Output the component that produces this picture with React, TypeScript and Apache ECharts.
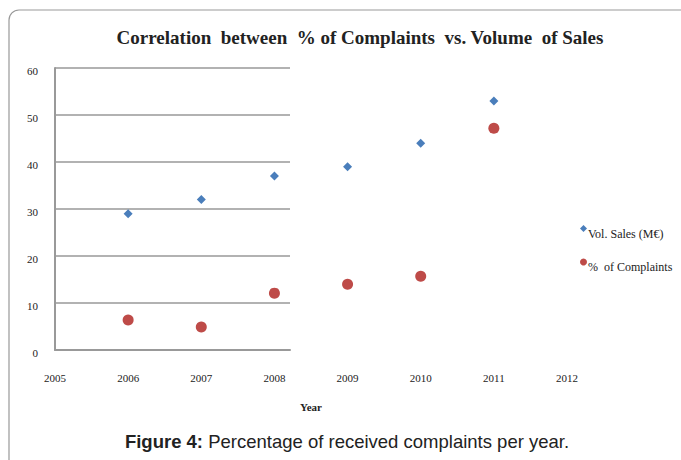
import React, { useEffect, useRef } from "react";
import * as echarts from "echarts";

const years = [2006, 2007, 2008, 2009, 2010, 2011];
const volSales = [29, 32, 37, 39, 44, 53];
const complaints = [6.4, 4.9, 12.1, 14, 15.7, 47.2];
const seriesNames = ["Vol. Sales (M€)", "%  of Complaints"];
const titleText = "Correlation  between  % of Complaints  vs. Volume  of Sales";
const captionBold = "Figure 4:";
const captionRest = " Percentage of received complaints per year.";

export default function App() {
  const ref = useRef<HTMLDivElement>(null);
  useEffect(() => {
    if (!ref.current) return;
    const chart = echarts.init(ref.current, null, { renderer: "svg" });
    const serif = "Liberation Serif";
    chart.setOption({
      animation: false,
      backgroundColor: "#fff",
      title: {
        text: titleText,
        left: 355,
        textAlign: "center",
        top: 23,
        textStyle: { fontFamily: serif, fontWeight: "bold", fontSize: 19, color: "#222" },
      },
      legend: {
        orient: "vertical",
        left: 575,
        top: 220,
        itemGap: 19,
        itemWidth: 7,
        itemHeight: 7,
        data: [
          { name: seriesNames[0], icon: "diamond" },
          { name: seriesNames[1], icon: "circle" },
        ],
        formatter: (n: string) => "{t|" + n + "}",
        textStyle: {
          fontFamily: serif,
          fontSize: 12,
          color: "#222",
          rich: { t: { fontFamily: serif, fontSize: 12, color: "#222", padding: [10, 0, 0, -4] } },
        },
      },
      grid: [
        { left: 55, right: 114, top: 68, bottom: 110 },
        { left: 55, width: 235, top: 68, height: 282 },
      ],
      xAxis: [
        {
          gridIndex: 0,
          type: "value",
          min: 2005,
          max: 2012,
          interval: 1,
          axisLine: { show: false },
          axisTick: { show: false },
          splitLine: { show: false },
          axisLabel: { margin: 22, fontFamily: serif, fontSize: 11, color: "#222", formatter: (v: number) => String(v) },
          name: "Year",
          nameLocation: "middle",
          nameGap: 51,
          nameTextStyle: { fontFamily: serif, fontSize: 11, fontWeight: "bold", color: "#222" },
        },
        {
          gridIndex: 1,
          type: "value",
          min: 0,
          max: 1,
          axisLine: { show: true, lineStyle: { color: "#999", width: 2 } },
          axisTick: { show: false },
          axisLabel: { show: false },
          splitLine: { show: false },
        },
      ],
      yAxis: [
        {
          gridIndex: 0,
          type: "value",
          min: 0,
          max: 60,
          interval: 10,
          axisLine: { show: false },
          axisTick: { show: false },
          splitLine: { show: false },
          axisLabel: {
            margin: 17,
            fontFamily: serif,
            fontSize: 11,
            color: "#222",
            formatter: (v: number) => "{a|" + v + "}",
            rich: { a: { fontFamily: serif, fontSize: 11, color: "#222", padding: [6, 0, 0, 0] } },
          },
        },
        {
          gridIndex: 1,
          type: "value",
          min: 0,
          max: 60,
          interval: 10,
          axisLine: { show: true, lineStyle: { color: "#999", width: 2 } },
          axisTick: { show: false },
          axisLabel: { show: false },
          splitLine: { show: true, lineStyle: { color: "#999", width: 1.5 } },
        },
      ],
      series: [
        {
          name: seriesNames[0],
          type: "scatter",
          xAxisIndex: 0,
          yAxisIndex: 0,
          symbol: "diamond",
          symbolSize: 9,
          itemStyle: { color: "#4A7EBB", opacity: 1 },
          data: years.map((y, i) => [y, volSales[i]]),
        },
        {
          name: seriesNames[1],
          type: "scatter",
          xAxisIndex: 0,
          yAxisIndex: 0,
          symbol: "circle",
          symbolSize: 11,
          itemStyle: { color: "#BE4B48", opacity: 1 },
          data: years.map((y, i) => [y, complaints[i]]),
        },
      ],
      graphic: [
        {
          type: "rect",
          shape: { x: 9, y: 10, width: 720, height: 500, r: [10, 0, 0, 0] },
          style: { fill: "none", stroke: "#999", lineWidth: 1.2 },
          z: -10,
        },
        {
          type: "text",
          x: 347,
          y: 441,
          style: {
            text: "{b|" + captionBold + "}{r|" + captionRest + "}",
            align: "center",
            verticalAlign: "middle",
            rich: {
              b: { fontFamily: "Liberation Sans", fontWeight: "bold", fontSize: 18.5, fill: "#222" },
              r: { fontFamily: "Liberation Sans", fontSize: 18.5, fill: "#222" },
            },
          },
        },
      ],
    });
    return () => chart.dispose();
  }, []);
  return <div ref={ref} style={{ position: "fixed", left: 0, top: 0, width: 681, height: 460 }} />;
}
